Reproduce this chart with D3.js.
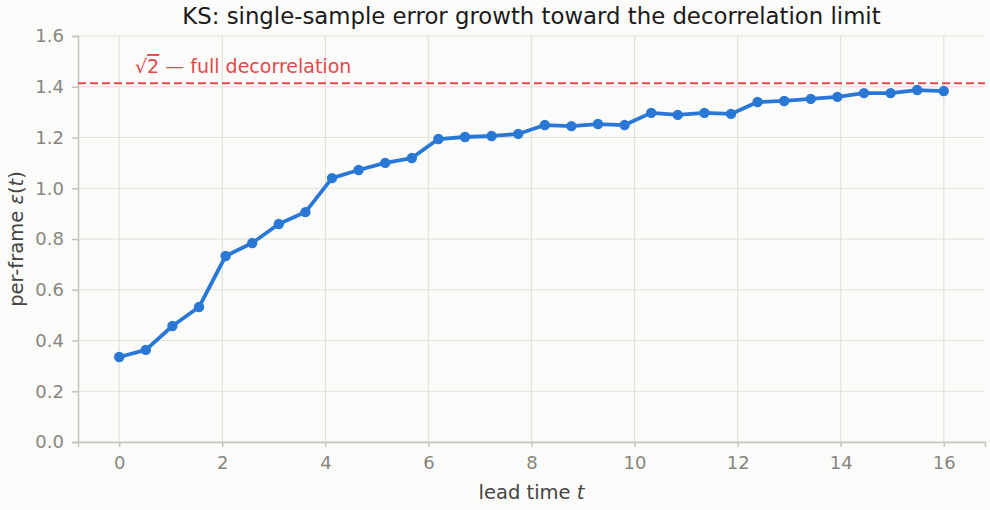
<!DOCTYPE html>
<html>
<head>
<meta charset="utf-8">
<script src="https://cdn.jsdelivr.net/npm/d3@7"></script>
<style>
  body { margin: 0; background: #fbfbf9; }
  svg { font-family: "DejaVu Sans", sans-serif; }
</style>
</head>
<body>
<svg id="chart"></svg>
<script>
// data
const nSteps = 31
const tMax = 16
const errValues = [0.335, 0.363, 0.457, 0.532, 0.733, 0.784, 0.859, 0.906,
  1.040, 1.072, 1.100, 1.119, 1.194, 1.202, 1.206, 1.214,
  1.249, 1.245, 1.253, 1.249, 1.297, 1.289, 1.297, 1.293,
  1.340, 1.344, 1.352, 1.360, 1.375, 1.375, 1.387, 1.383]
const xTicks = [0, 2, 4, 6, 8, 10, 12, 14, 16]
const yTicks = [0.0, 0.2, 0.4, 0.6, 0.8, 1.0, 1.2, 1.4, 1.6]
const limitValue = Math.SQRT2

const width = 990, height = 510
const margin = { top: 36, right: 5, bottom: 68, left: 78 }

const data = errValues.map((v, i) => ({ t: i * tMax / nSteps, e: v }))

const svg = d3.select("#chart").attr("width", width).attr("height", height)

svg.append("rect").attr("width", width).attr("height", height).attr("fill", "#fbfbf9")

const x = d3.scaleLinear().domain([-0.8, 16.8]).range([margin.left, width - margin.right])
const y = d3.scaleLinear().domain([0, 1.6]).range([height - margin.bottom, margin.top])

// grid
svg.append("g").selectAll("line").data(xTicks).join("line")
  .attr("x1", d => x(d)).attr("x2", d => x(d))
  .attr("y1", y(0)).attr("y2", y(1.6))
  .attr("stroke", "#e2e1da").attr("stroke-width", 1.2)
svg.append("g").selectAll("line").data(yTicks).join("line")
  .attr("x1", x(-0.8)).attr("x2", x(16.8))
  .attr("y1", d => y(d)).attr("y2", d => y(d))
  .attr("stroke", "#e2e1da").attr("stroke-width", 1.2)

// axes
const xAxis = svg.append("g")
  .attr("transform", `translate(0,${y(0)})`)
  .call(d3.axisBottom(x).tickValues(xTicks).tickFormat(d3.format("d")).tickSizeOuter(0).tickSize(5).tickPadding(9))
const yAxis = svg.append("g")
  .attr("transform", `translate(${x(-0.8)},0)`)
  .call(d3.axisLeft(y).tickValues(yTicks).tickFormat(d3.format(".1f")).tickSizeOuter(0).tickSize(6).tickPadding(8))

for (const ax of [xAxis, yAxis]) {
  ax.select(".domain").attr("stroke", "#c4c3bb").attr("stroke-width", 1.5)
  ax.selectAll(".tick line").attr("stroke", "#c4c3bb").attr("stroke-width", 1.5)
  ax.selectAll(".tick text").attr("fill", "#86867f").style("font-size", "18px")
    .style("font-family", "DejaVu Sans")
}

// decorrelation limit
svg.append("line")
  .attr("x1", x(-0.8)).attr("x2", x(16.8))
  .attr("y1", y(limitValue)).attr("y2", y(limitValue))
  .attr("stroke", "#e5474b").attr("stroke-width", 2)
  .attr("stroke-dasharray", "8,4")

const lbl = svg.append("text")
  .attr("x", 135).attr("y", 73)
  .attr("fill", "#e5474b").style("font-size", "19px")
lbl.append("tspan").text("√")
lbl.append("tspan").text("2").attr("text-decoration", "overline")
lbl.append("tspan").text(" — full decorrelation")

// the curve
svg.append("path").datum(data)
  .attr("fill", "none")
  .attr("stroke", "#2a78d6").attr("stroke-width", 3.8)
  .attr("stroke-linejoin", "round")
  .attr("d", d3.line().x(d => x(d.t)).y(d => y(d.e)))

svg.append("g").selectAll("circle").data(data).join("circle")
  .attr("cx", d => x(d.t)).attr("cy", d => y(d.e)).attr("r", 5.2)
  .attr("fill", "#2a78d6")

// titles
svg.append("text")
  .attr("x", (margin.left + width - margin.right) / 2).attr("y", 24)
  .attr("text-anchor", "middle").attr("fill", "#1a1a1a")
  .style("font-size", "22.8px")
  .text("KS: single-sample error growth toward the decorrelation limit")

const xl = svg.append("text")
  .attr("x", (margin.left + width - margin.right) / 2).attr("y", 499)
  .attr("text-anchor", "middle").attr("fill", "#444").style("font-size", "19.5px")
xl.append("tspan").text("lead time ")
xl.append("tspan").text("t").style("font-style", "italic")

const yl = svg.append("text")
  .attr("transform", `translate(23,${y(0.8)}) rotate(-90)`)
  .attr("text-anchor", "middle").attr("fill", "#444").style("font-size", "19.5px")
yl.append("tspan").text("per-frame ")
yl.append("tspan").text("ε").style("font-style", "italic")
yl.append("tspan").text("(")
yl.append("tspan").text("t").style("font-style", "italic")
yl.append("tspan").text(")")
</script>
</body>
</html>
